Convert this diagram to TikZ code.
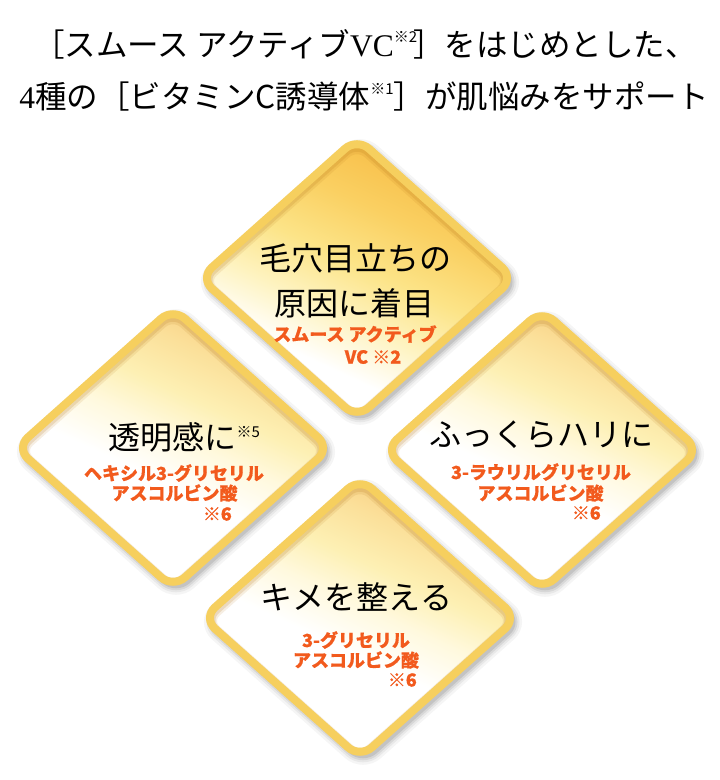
\documentclass[tikz,border=0pt]{standalone}
\usepackage{fontspec}
\setmainfont{Noto Sans CJK JP}[BoldFeatures={FakeBold=0.6}]
\newfontfamily\titleserif{Liberation Serif}
\definecolor{gemborder}{HTML}{F6CF5E}
\definecolor{gemtop}{HTML}{F7BA42}
\definecolor{gemhi}{HTML}{FAD062}
\definecolor{gemyel}{HTML}{FCE488}
\definecolor{gemmid}{HTML}{FEF3C0}
\definecolor{paletop}{HTML}{F8C878}
\definecolor{palehi}{HTML}{FBE09A}
\definecolor{paleyel}{HTML}{FDF0B4}
\definecolor{palemid}{HTML}{FFF9DE}
\definecolor{orangetxt}{HTML}{F25A1D}
\definecolor{innershade}{HTML}{B8781A}
\pgfdeclareverticalshading{gemshadeA}{100bp}{color(0bp)=(white); color(34bp)=(white); color(43bp)=(gemmid); color(52bp)=(gemyel); color(62bp)=(gemhi); color(75bp)=(gemtop); color(100bp)=(gemtop)}
\pgfdeclareverticalshading{gemshadeB}{100bp}{color(0bp)=(white); color(44bp)=(white); color(52bp)=(palemid); color(59bp)=(paleyel); color(67bp)=(palehi); color(76bp)=(paletop); color(100bp)=(paletop)}
\newcommand\supmark[2]{\raisebox{#1}{\fontsize{15}{15}\selectfont #2}}
\tikzset{
  gemshape/.style={rounded corners=16pt, insert path={(0,-140) -- (157,0) -- (0,140) -- (-157,0) -- cycle}},
  gem/.pic={
    \foreach \w/\o in {18/0.04,13/0.05,9/0.07,5/0.09}{
      \draw[black, line width=\w pt, opacity=\o, shift={(3,4)}, gemshape];
    }
    \shade[shading=#1, shading angle=-25, gemshape];
    \begin{scope}
      \clip[gemshape];
      \draw[innershade, line width=14pt, opacity=0.12, shift={(0,3)}, gemshape];
      \draw[innershade, line width=11pt, opacity=0.18, shift={(0,2)}, gemshape];
    \end{scope}
    \draw[gemborder, line width=8pt, gemshape];
  },
  title/.style={font=\fontsize{31.5}{38}\selectfont, text=black, inner sep=0pt},
  mainlbl/.style={font=\fontsize{32}{38}\selectfont, text=black, inner sep=0pt},
  sublbl/.style={font=\bfseries\fontsize{18}{20}\selectfont, text=orangetxt, inner sep=0pt}
}
\begin{document}
\begin{tikzpicture}[x=1pt,y=-1pt]
\fill[white] (0,0) rectangle (720,780);
\useasboundingbox (0,0) rectangle (720,780);

% titles
\node[title] (t1) at (365,44) {［スムース アクティブ{\titleserif VC}\supmark{0.42em}{※2}\kern-4pt］をはじめとした、};
\node[title] (t2) at (364,96) {{\titleserif 4}種の［ビタミンC誘導体\supmark{0.42em}{※1}］が肌悩みをサポート};

% diamonds
\pic (gtop) at (357,278) {gem=gemshadeA};
\pic (gleft) at (173,448) {gem=gemshadeB};
\pic (gright) at (542,450) {gem=gemshadeB};
\pic (gbot) at (360,618) {gem=gemshadeB};

% top diamond texts
\node[mainlbl] (a1) at (355,258) {毛穴目立ちの};
\node[mainlbl] (a2) at (354,303) {原因に着目};
\node[sublbl] (a3) at (355,334) {スムース アクティブ};
\node[sublbl] (a4) at (373,357) {VC ※2};

% left diamond texts
\node[mainlbl] (b1) at (172.5,437) {透明感に\rlap{\supmark{0.35em}{※5}}};
\node[sublbl] (b2) at (174,473) {ヘキシル3-グリセリル};
\node[sublbl] (b3) at (174.5,493) {アスコルビン酸};
\node[sublbl, anchor=east] (b4) at (232,514) {※6};

% right diamond texts
\node[mainlbl] (c1) at (541.5,435) {ふっくらハリに};
\node[sublbl] (c2) at (541,472) {3-ラウリルグリセリル};
\node[sublbl] (c3) at (540.5,493) {アスコルビン酸};
\node[sublbl, anchor=east] (c4) at (601,513) {※6};

% bottom diamond texts
\node[mainlbl] (d1) at (356.5,597) {キメを整える};
\node[sublbl] (d2) at (356,640) {3-グリセリル};
\node[sublbl] (d3) at (356,660) {アスコルビン酸};
\node[sublbl, anchor=east] (d4) at (417,680) {※6};
\end{tikzpicture}
\end{document}
